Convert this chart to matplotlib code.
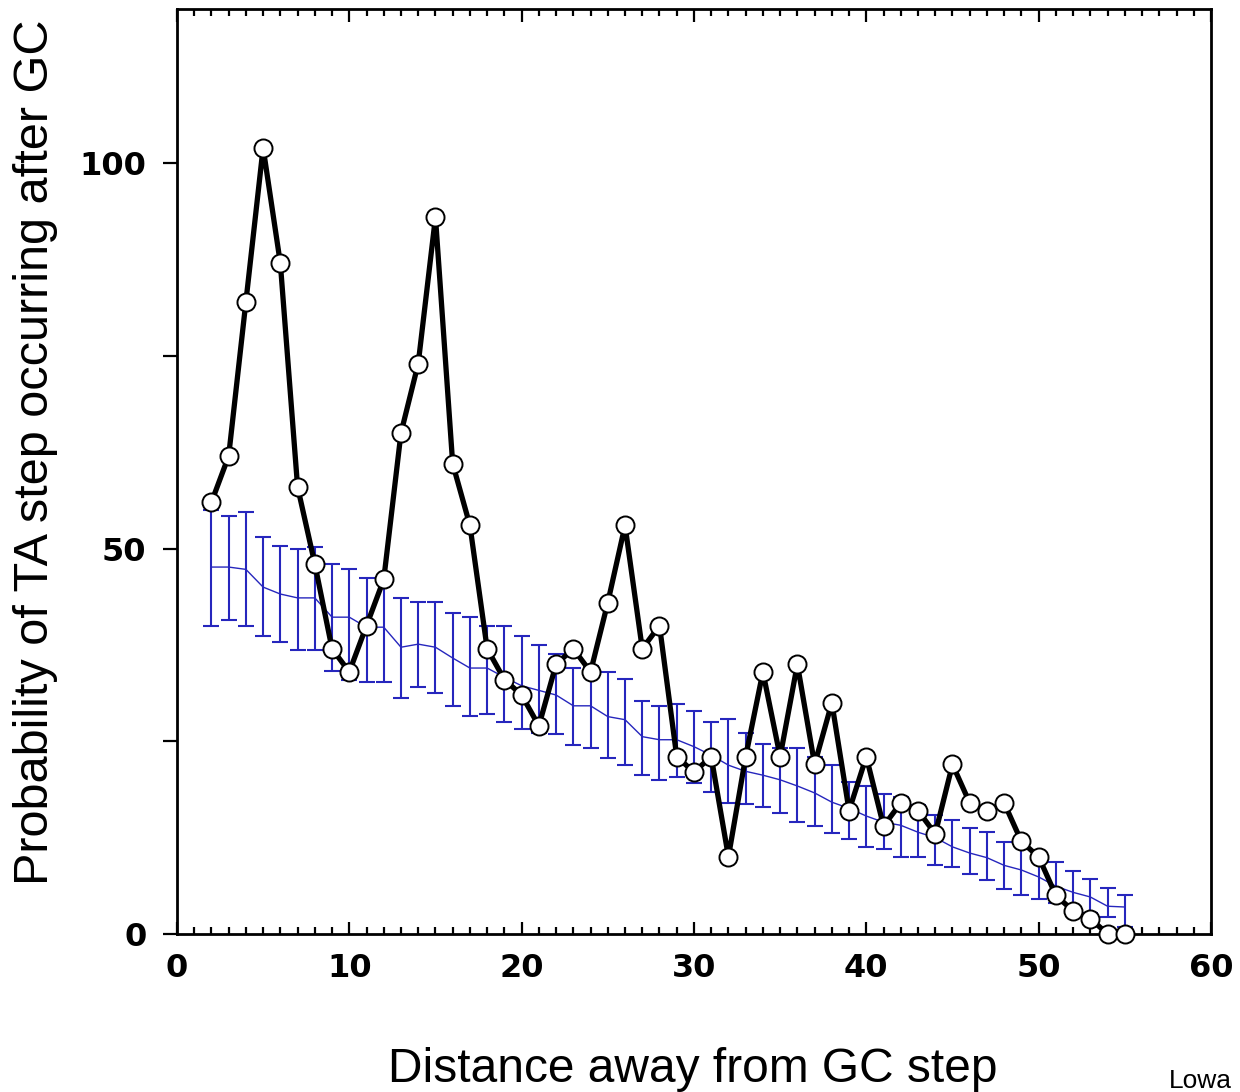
import numpy as np
import matplotlib
matplotlib.use('Agg')
import matplotlib.pyplot as plt
from matplotlib.ticker import MultipleLocator, FixedLocator

# distance from GC step
dist = list(range(2, 56))

# observed probability (black, open circles)
ta_prob = [56, 62, 82, 102, 87, 58, 48, 37, 34, 40, 46, 65, 74, 93, 61, 53, 37, 33,
           31, 27, 35, 37, 34, 43, 53, 37, 40, 23, 21, 23, 10, 23, 34, 23, 35, 22,
           30, 16, 23, 14, 17, 16, 13, 22, 17, 16, 17, 12, 10, 5, 3, 2, 0, 0]

# random expectation (blue) with error bar ends
rand_mean = [47.6, 47.6, 47.3, 45.0, 44.1, 43.6, 43.6, 41.1, 41.1, 39.8, 39.8, 37.2,
             37.6, 37.2, 35.8, 34.5, 34.5, 33.3, 32.2, 31.6, 31.0, 29.6, 29.6, 28.2,
             27.8, 25.6, 25.2, 25.2, 24.3, 23.2, 21.9, 21.1, 20.6, 20.0, 19.2, 18.3,
             17.1, 16.3, 15.3, 14.5, 14.1, 13.2, 12.5, 11.3, 10.5, 9.9, 8.9, 8.3,
             7.4, 6.2, 5.4, 4.8, 3.6, 3.5]
rand_hi = [55.0, 54.2, 54.7, 51.5, 50.3, 49.9, 50.2, 48.0, 47.3, 46.2, 46.3, 43.6,
           43.1, 43.1, 41.6, 41.1, 39.9, 39.9, 38.7, 37.5, 36.3, 34.5, 34.8, 34.0,
           33.1, 30.2, 29.6, 29.8, 28.9, 27.5, 27.9, 26.1, 24.6, 24.1, 24.1, 23.0,
           21.9, 19.7, 19.2, 18.2, 17.8, 16.7, 15.4, 14.8, 13.7, 13.2, 11.9, 11.5,
           9.6, 9.3, 8.2, 7.1, 6.0, 5.1]
rand_lo = [40.0, 40.7, 40.0, 38.7, 37.9, 36.8, 36.8, 34.1, 32.9, 32.7, 32.7, 30.6,
           32.0, 31.3, 29.6, 28.3, 28.5, 27.5, 26.6, 26.1, 25.9, 24.5, 24.1, 22.8,
           21.9, 20.6, 20.0, 20.4, 19.6, 18.4, 17.0, 16.9, 16.5, 15.7, 14.5, 14.0,
           13.1, 12.3, 11.3, 11.0, 10.0, 10.0, 8.9, 8.7, 7.8, 7.0, 5.8, 5.1,
           4.5, 4.0, 3.5, 2.7, 2.2, 0.9]

mean = np.array(rand_mean)
yerr = [mean - np.array(rand_lo), np.array(rand_hi) - mean]

fig = plt.figure(figsize=(12.4, 10.92), dpi=100)
ax = fig.add_axes([0.1427, 0.1447, 0.8339, 0.8471])

blue = '#2626bd'
ax.errorbar(dist, rand_mean, yerr=yerr, color=blue, lw=1.0, elinewidth=1.5,
            capsize=5.5, capthick=1.5, zorder=2)
ax.plot(dist, ta_prob, color='black', lw=3.8, marker='o', markersize=13,
        markerfacecolor='white', markeredgecolor='black', markeredgewidth=1.4,
        zorder=3, clip_on=False)

ax.set_xlim(0, 60)
ax.set_ylim(0, 120)

for s in ax.spines.values():
    s.set_linewidth(2)

ax.xaxis.set_major_locator(MultipleLocator(10))
ax.xaxis.set_minor_locator(MultipleLocator(1))
ax.tick_params(axis='x', which='both', direction='in', top=True, bottom=True,
               width=1.6, pad=14)
ax.tick_params(axis='x', which='major', length=9)
ax.tick_params(axis='x', which='minor', length=5)

ax.yaxis.set_major_locator(FixedLocator([0, 50, 100]))
ax.yaxis.set_minor_locator(FixedLocator([25, 75]))
ax.tick_params(axis='y', which='both', direction='out', left=True, right=False,
               length=10, width=1.6, pad=12)

for lab in ax.get_xticklabels() + ax.get_yticklabels():
    lab.set_fontsize(23)
    lab.set_fontweight('bold')
    lab.set_family('DejaVu Sans')

fig.text(0.029, 0.586, 'Probability of TA step occurring after GC', rotation=90,
         ha='center', va='center', fontsize=35, family='Liberation Sans')
fig.text(0.559, 0.009, 'Distance away from GC step', ha='center', va='baseline',
         fontsize=34.5, family='Liberation Sans')
fig.text(0.943, 0.004, 'Lowa', ha='left', va='baseline', fontsize=19,
         family='Liberation Sans')

fig.savefig('out.png', dpi=100, facecolor='white')
